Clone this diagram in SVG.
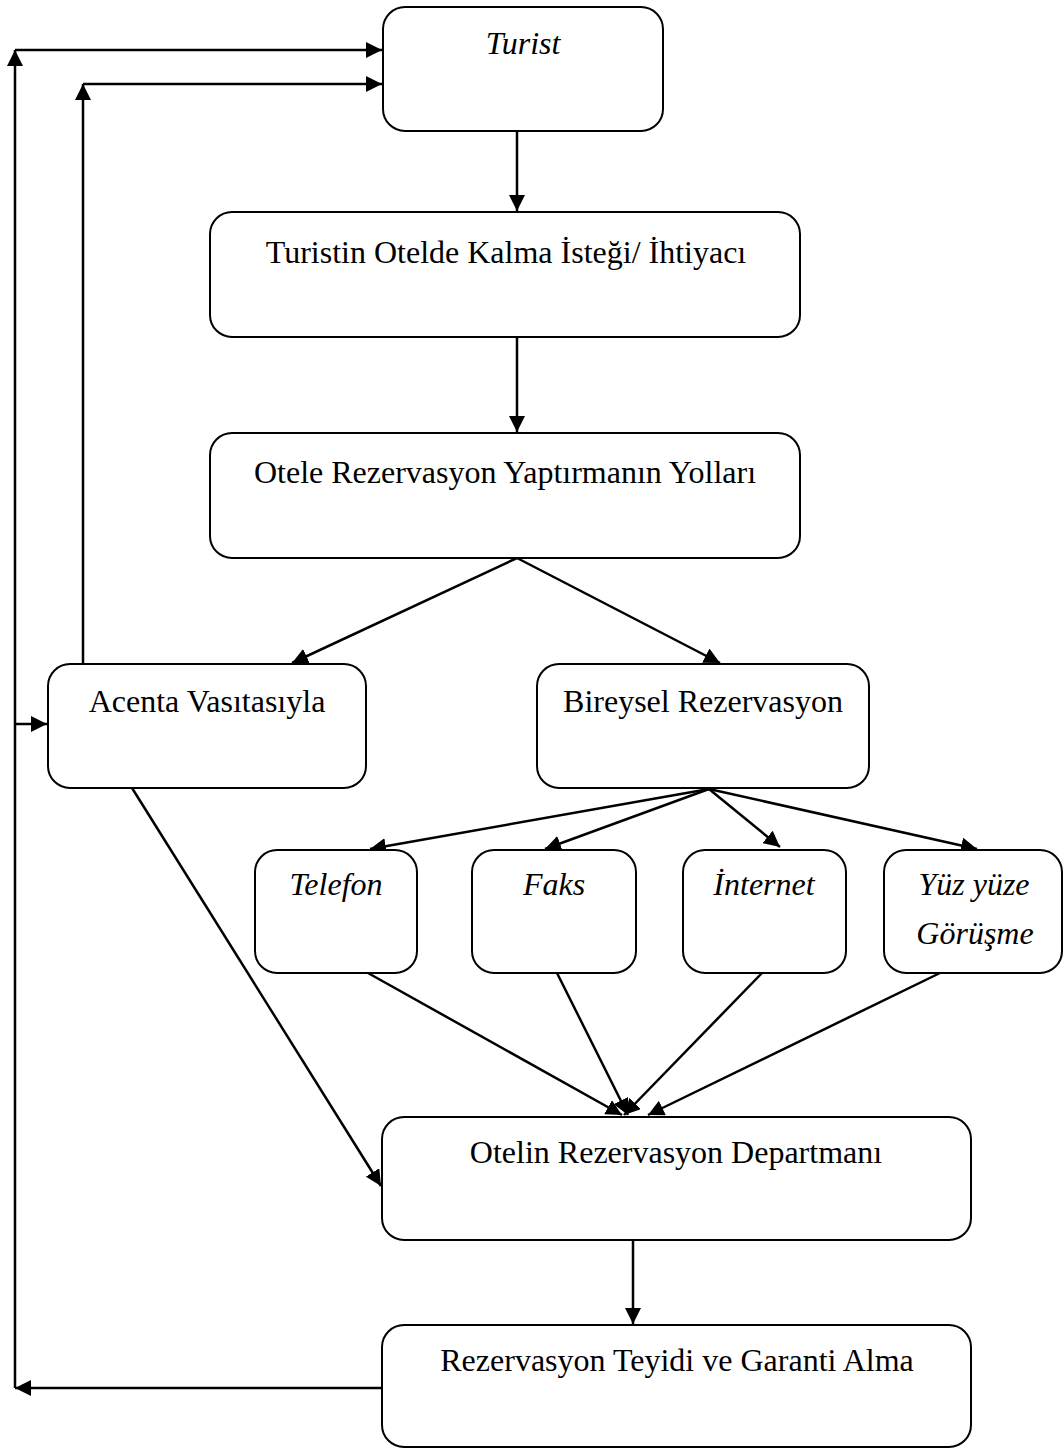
<svg xmlns="http://www.w3.org/2000/svg" width="1063" height="1448" viewBox="0 0 1063 1448">
  <defs>
    <marker id="arrow" viewBox="0 0 10 10" refX="10" refY="5" markerWidth="16" markerHeight="16" markerUnits="userSpaceOnUse" orient="auto">
      <path d="M0,0 L10,5 L0,10 Z" fill="#000"/>
    </marker>
  </defs>
  <style>
    .box { fill: #fff; stroke: #000; stroke-width: 2; }
    .lbl { font-family: "Liberation Serif", "Times New Roman", serif; font-size: 32px; fill: #000; text-anchor: middle; }
    .it { font-style: italic; }
    .edge { fill: none; stroke: #000; stroke-width: 2.5; }
    .edge.arr { marker-end: url(#arrow); }
  </style>
  <rect width="1063" height="1448" fill="#fff"/>

  <!-- connectors -->
  <g id="connectors">
    <!-- feedback loops on the left -->
    <polyline class="edge arr" points="382,1388 15,1388"/>
    <polyline class="edge arr" points="15,1388 15,50"/>
    <polyline class="edge arr" points="15,50 382,50"/>
    <polyline class="edge arr" points="15,724 47,724"/>
    <polyline class="edge arr" points="83,664 83,84"/>
    <polyline class="edge arr" points="83,84 382,84"/>
    <!-- main flow -->
    <line class="edge arr" x1="517" y1="131" x2="517" y2="211"/>
    <line class="edge arr" x1="517" y1="337" x2="517" y2="432"/>
    <line class="edge arr" x1="517" y1="558" x2="292" y2="663"/>
    <line class="edge arr" x1="517" y1="558" x2="720" y2="663"/>
    <!-- channels of individual booking -->
    <line class="edge arr" x1="709" y1="789" x2="370" y2="849"/>
    <line class="edge arr" x1="709" y1="789" x2="545" y2="849"/>
    <line class="edge arr" x1="709" y1="789" x2="780" y2="847"/>
    <line class="edge arr" x1="709" y1="789" x2="977" y2="849"/>
    <!-- into the reservation department -->
    <line class="edge arr" x1="368" y1="973" x2="622" y2="1115"/>
    <line class="edge arr" x1="557" y1="973" x2="628" y2="1115"/>
    <line class="edge arr" x1="762" y1="973" x2="624" y2="1115"/>
    <line class="edge arr" x1="940" y1="973" x2="648" y2="1115"/>
    <line class="edge arr" x1="132" y1="788" x2="381" y2="1186"/>
    <line class="edge arr" x1="633" y1="1240" x2="633" y2="1324"/>
  </g>

  <g id="turist">
    <rect class="box" x="383" y="7" width="280" height="124" rx="22"/>
    <text class="lbl it" x="523" y="54">Turist</text>
  </g>
  <g id="istek">
    <rect class="box" x="210" y="212" width="590" height="125" rx="22"/>
    <text class="lbl" x="506" y="263">Turistin Otelde Kalma İsteği/ İhtiyacı</text>
  </g>
  <g id="yollar">
    <rect class="box" x="210" y="433" width="590" height="125" rx="22"/>
    <text class="lbl" x="505" y="483">Otele Rezervasyon Yaptırmanın Yolları</text>
  </g>
  <g id="acenta">
    <rect class="box" x="48" y="664" width="318" height="124" rx="22"/>
    <text class="lbl" x="207" y="712">Acenta Vasıtasıyla</text>
  </g>
  <g id="bireysel">
    <rect class="box" x="537" y="664" width="332" height="124" rx="22"/>
    <text class="lbl" x="703" y="712">Bireysel Rezervasyon</text>
  </g>
  <g id="telefon">
    <rect class="box" x="255" y="850" width="162" height="123" rx="22"/>
    <text class="lbl it" x="336" y="895">Telefon</text>
  </g>
  <g id="faks">
    <rect class="box" x="472" y="850" width="164" height="123" rx="22"/>
    <text class="lbl it" x="554" y="895">Faks</text>
  </g>
  <g id="internet">
    <rect class="box" x="683" y="850" width="163" height="123" rx="22"/>
    <text class="lbl it" x="764" y="895">İnternet</text>
  </g>
  <g id="yuzyuze">
    <rect class="box" x="884" y="850" width="178" height="123" rx="22"/>
    <text class="lbl it" x="974" y="895">Yüz yüze</text>
    <text class="lbl it" x="975" y="944">Görüşme</text>
  </g>
  <g id="departman">
    <rect class="box" x="382" y="1117" width="589" height="123" rx="22"/>
    <text class="lbl" x="676" y="1163">Otelin Rezervasyon Departmanı</text>
  </g>
  <g id="teyit">
    <rect class="box" x="382" y="1325" width="589" height="122" rx="22"/>
    <text class="lbl" x="677" y="1371">Rezervasyon Teyidi ve Garanti Alma</text>
  </g>
</svg>
